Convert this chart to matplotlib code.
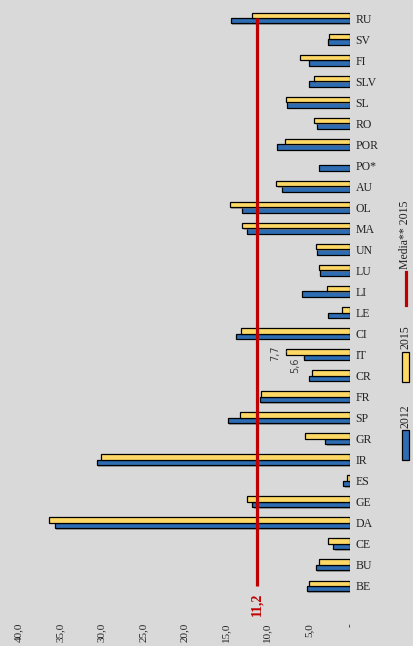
import matplotlib
matplotlib.use('Agg')
import matplotlib.pyplot as plt
import matplotlib.patheffects as pe
from matplotlib.patches import Rectangle
from matplotlib.lines import Line2D
import numpy as np

# categories from bottom to top
paesi = ['BE', 'BU', 'CE', 'DA', 'GE', 'ES', 'IR', 'GR', 'SP', 'FR', 'CR', 'IT',
         'CI', 'LE', 'LI', 'LU', 'UN', 'MA', 'OL', 'AU', 'PO*', 'POR', 'RO', 'SL',
         'SLV', 'FI', 'SV', 'RU']
v2012 = [5.2, 4.1, 2.0, 35.7, 11.8, 0.8, 30.6, 3.0, 14.8, 10.9, 5.0, 5.6,
         13.8, 2.7, 5.8, 3.6, 4.0, 12.4, 13.0, 8.2, 3.8, 8.8, 4.0, 7.6,
         5.0, 5.0, 2.6, 14.4]
v2015 = [4.9, 3.7, 2.7, 36.4, 12.4, 0.4, 30.1, 5.4, 13.3, 10.8, 4.6, 7.7,
         13.2, 1.0, 2.8, 3.7, 4.1, 13.0, 14.5, 8.9, np.nan, 7.9, 4.3, 7.7,
         4.3, 6.1, 2.5, 11.8]
media2015 = 11.2
xticks = [0, 5, 10, 15, 20, 25, 30, 35, 40]
xticklabels = ['-', '5,0', '10,0', '15,0', '20,0', '25,0', '30,0', '35,0', '40,0']

W, H = 413, 646
bg = '#d9d9d9'
blu = '#2e6db4'
giallo = '#ffd966'
rosso = '#c00000'
serif = ['Liberation Serif', 'DejaVu Serif']

fig = plt.figure(figsize=(W / 100, H / 100), dpi=100, facecolor=bg)
ax = fig.add_axes([19 / W, (H - 596.5) / H, 331 / W, 589 / H], facecolor=bg)

y = np.arange(len(paesi))
h = 0.26
ombra = [pe.SimplePatchShadow(offset=(1, -1), shadow_rgbFace='#808080', alpha=0.6), pe.Normal()]
ax.barh(y - 0.13, v2012, height=h, color=blu, edgecolor='black', linewidth=0.9,
        path_effects=ombra)
ax.barh(y + 0.13, v2015, height=h, color=giallo, edgecolor='black', linewidth=0.9,
        path_effects=ombra)
ax.plot([media2015] * len(paesi), y, color=rosso, linewidth=2.3, solid_capstyle='butt')
ax.text(media2015, -0.33, '11,2', rotation=90, ha='center', va='top', color=rosso,
        fontsize=10, fontweight='bold', family=serif)

# labels on IT
i = paesi.index('IT')
ax.annotate('7,7', xy=(v2015[i], i + 0.13), xytext=(v2015[i] + 1.3, i + 0.05),
            rotation=90, ha='center', va='center', fontsize=7, color='#404040',
            arrowprops=dict(arrowstyle='-', color='#a0a0a0', lw=0.7))
ax.annotate('5,6', xy=(v2012[i], i - 0.13), xytext=(v2012[i] + 1.0, i - 0.5),
            rotation=90, ha='center', va='center', fontsize=7, color='#404040',
            arrowprops=dict(arrowstyle='-', color='#a0a0a0', lw=0.7))

ax.set_xlim(40, 0)
ax.set_ylim(-0.5, len(paesi) - 0.5)
ax.set_xticks(xticks)
ax.set_xticklabels(xticklabels, rotation=90, fontsize=8, family=serif, color='#222222')
ax.set_yticks(y)
ax.set_yticklabels(paesi, fontsize=8.5, family=serif, color='#222222')
ax.yaxis.tick_right()
ax.tick_params(axis='x', length=0, pad=19)
ax.tick_params(axis='y', length=0, pad=4)
for s in ax.spines.values():
    s.set_visible(False)

# legend, drawn vertically on the right
fig.patches.append(Rectangle((402 / W, (H - 460) / H), 7 / W, 30 / H, transform=fig.transFigure,
                             facecolor=blu, edgecolor='black', linewidth=0.9))
fig.text(405.5 / W, (H - 428) / H, '2012', rotation=90, ha='center', va='bottom',
         fontsize=8.5, family=serif, color='#222222')
fig.patches.append(Rectangle((402 / W, (H - 382) / H), 7 / W, 30 / H, transform=fig.transFigure,
                             facecolor=giallo, edgecolor='black', linewidth=0.9))
fig.text(405.5 / W, (H - 349) / H, '2015', rotation=90, ha='center', va='bottom',
         fontsize=8.5, family=serif, color='#222222')
fig.lines.append(Line2D([405.5 / W, 405.5 / W], [(H - 305) / H, (H - 272) / H],
                        transform=fig.transFigure, color=rosso, linewidth=2.3))
fig.text(405.5 / W, (H - 269) / H, 'Media** 2015', rotation=90, ha='center', va='bottom',
         fontsize=8.5, family=serif, color='#222222')

fig.savefig('out.png', dpi=100, facecolor=bg)
